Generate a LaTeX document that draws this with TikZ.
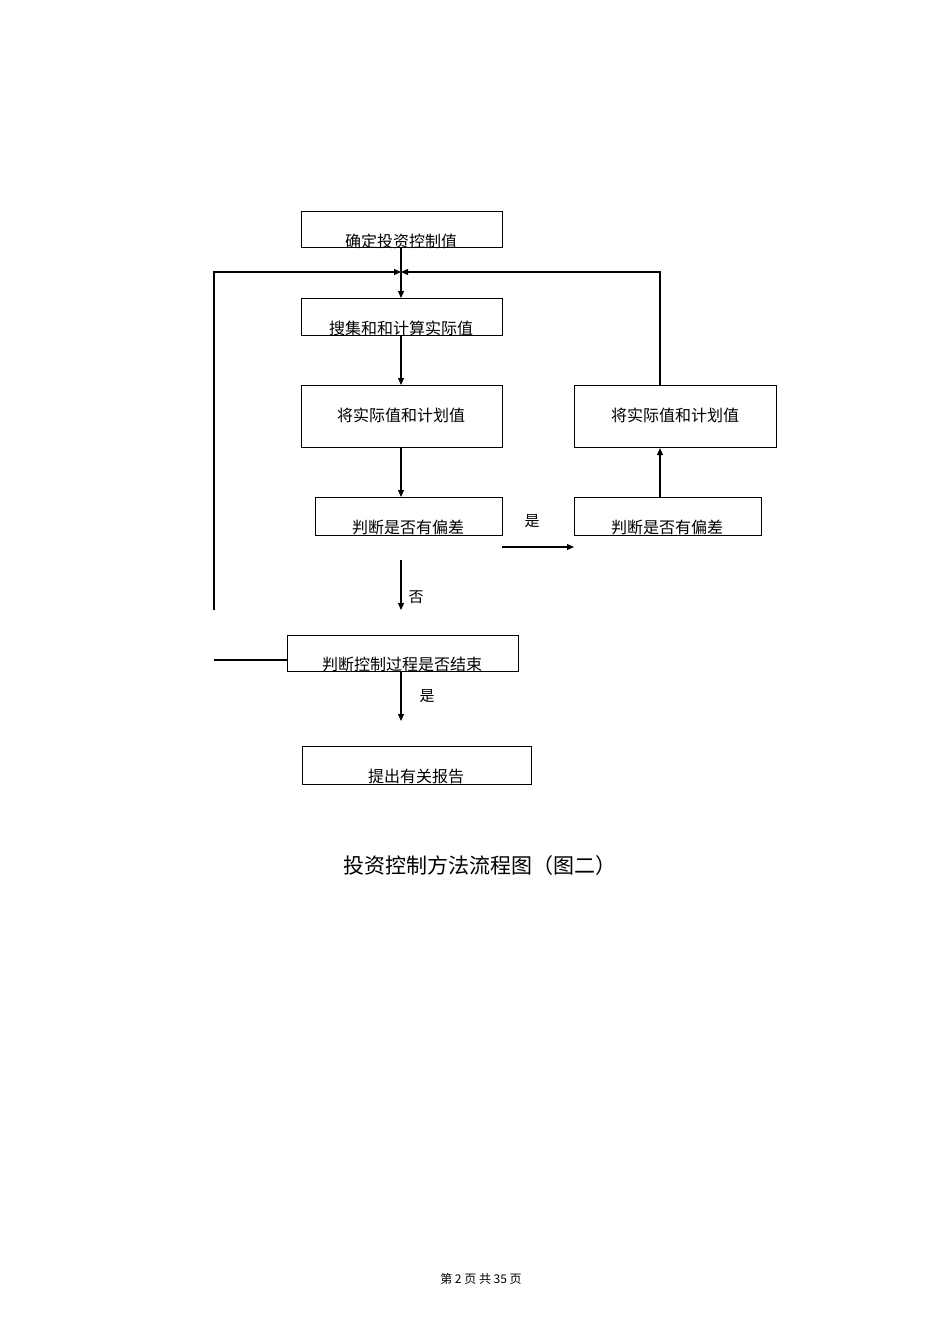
\documentclass[tikz,border=0pt]{standalone}
\usepackage{fontspec}
\setmainfont{Noto Sans CJK SC}
\usetikzlibrary{arrows.meta}
\begin{document}
\begin{tikzpicture}[x=1pt,y=-1pt,
  box/.style={draw,line width=1.1pt,inner sep=0pt,anchor=north west},
  txt/.style={font=\fontsize{16}{16}\selectfont,inner sep=0pt},
  lbl/.style={font=\fontsize{15}{15}\selectfont,inner sep=0pt},
  ar/.style={line width=1.1pt,-{Triangle[length=7pt,width=6pt]}},
  ln/.style={line width=1.1pt}]
\useasboundingbox (0,0) rectangle (950,1344);
\node[box,minimum width=201pt,minimum height=36pt] (b1) at (301,211) {};
\node[txt] (t1) at (401,241) {确定投资控制值};
\node[box,minimum width=201pt,minimum height=37pt] (b2) at (301,298) {};
\node[txt] (t2) at (401,328) {搜集和和计算实际值};
\node[box,minimum width=201pt,minimum height=62pt] (b3) at (301,385) {};
\node[txt] (t3) at (401,415) {将实际值和计划值};
\node[box,minimum width=187pt,minimum height=38pt] (b4) at (315,497) {};
\node[txt] (t4) at (408,527) {判断是否有偏差};
\node[box,minimum width=202pt,minimum height=62pt] (r1) at (574,385) {};
\node[txt] (tr1) at (675,415) {将实际值和计划值};
\node[box,minimum width=187pt,minimum height=38pt] (r2) at (574,497) {};
\node[txt] (tr2) at (667,527) {判断是否有偏差};
\node[box,minimum width=231pt,minimum height=36pt] (b5) at (287,635) {};
\node[txt] (t5) at (402,664) {判断控制过程是否结束};
\node[box,minimum width=229pt,minimum height=38pt] (b6) at (302,746) {};
\node[txt] (t6) at (416,776) {提出有关报告};
\coordinate (j) at (401,272);
\coordinate (jl) at (214,272);
\coordinate (jr) at (660,272);
\coordinate (lb) at (214,610);
\coordinate (l5) at (214,660);
\coordinate (ya) at (502,547);
\coordinate (yb) at (574,547);
\coordinate (na) at (401,560);
\coordinate (nb) at (401,610);
\coordinate (ea) at (401,671);
\coordinate (eb) at (401,721);
\draw[ar] (b1.south -| j) -- (b2.north -| j);
\draw[ar] (b2.south -| j) -- (b3.north -| j);
\draw[ar] (b3.south -| j) -- (b4.north -| j);
\draw[ar] (lb) -- (jl) -- (j);
\draw[ar] (r1.north -| jr) -- (jr) -- (j);
\draw[ar] (r2.north -| jr) -- (r1.south -| jr);
\draw[ar] (ya) -- (yb);
\node[lbl] (ys) at (532,521) {是};
\draw[ar] (na) -- (nb);
\node[lbl] (no) at (416,597) {否};
\draw[ln] (l5) -- (b5.west |- l5);
\draw[ar] (ea) -- (eb);
\node[lbl] (ye) at (427,696) {是};
\node[font=\fontsize{21}{21}\selectfont,inner sep=0pt] (cap) at (480,866) {投资控制方法流程图（图二）};
\node[font=\fontsize{12}{12}\selectfont,inner sep=0pt] (ft) at (481,1279) {第 2 页 共 35 页};
\end{tikzpicture}
\end{document}
